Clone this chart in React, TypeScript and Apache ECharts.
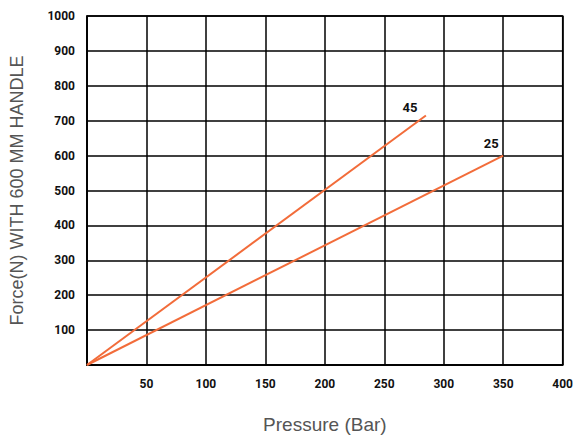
import React, { useEffect, useRef } from "react";
import * as echarts from "echarts";

const xTicks = [0, 50, 100, 150, 200, 250, 300, 350, 400];
const yTicks = [0, 100, 200, 300, 400, 500, 600, 700, 800, 900, 1000];
const line45 = [
  [0, 0],
  [285, 715],
];
const line25 = [
  [0, 0],
  [350, 600],
];
const seriesNames = ["45", "25"];

const TICK_FONT = "Roboto, sans-serif";

export default function App() {
  const ref = useRef<HTMLDivElement>(null);
  useEffect(() => {
    const chart = echarts.init(ref.current!, null, { renderer: "svg" });
    const mk = (name: string, pts: number[][], offset: number[]) => ({
      name,
      type: "line",
      symbol: "none",
      lineStyle: { color: "#f26c3a", width: 2 },
      endLabel: {
        show: true,
        formatter: name,
        offset,
        align: "center",
        verticalAlign: "middle",
        distance: 0,
        color: "#111",
        fontFamily: TICK_FONT,
        fontWeight: "bold",
        fontSize: 13,
      },
      data: pts,
    });
    chart.setOption({
      animation: false,
      grid: {
        left: 85,
        right: 10,
        top: 16,
        bottom: 78,
        show: true,
        borderColor: "#000",
        borderWidth: 1.5,
      },
      xAxis: {
        type: "value",
        min: xTicks[0],
        max: xTicks[xTicks.length - 1],
        interval: 50,
        name: "Pressure (Bar)",
        nameLocation: "middle",
        nameGap: 50,
        nameTextStyle: { color: "#555", fontSize: 19, fontFamily: "'Liberation Sans', Arial, sans-serif" },
        axisLine: { show: true, lineStyle: { color: "#000", width: 1.5 } },
        axisTick: { show: false },
        axisLabel: {
          margin: 13,
          color: "#111",
          fontFamily: TICK_FONT,
          fontWeight: "bold",
          fontSize: 12,
          formatter: (v: number) => (v === 0 ? "" : String(v)),
        },
        splitLine: { show: true, lineStyle: { color: "#000", width: 1.5 } },
      },
      yAxis: {
        type: "value",
        min: yTicks[0],
        max: yTicks[yTicks.length - 1],
        interval: 100,
        name: "Force(N) WITH 600 MM HANDLE",
        nameLocation: "middle",
        nameGap: 61,
        nameTextStyle: { color: "#555", fontSize: 18, fontFamily: "'Liberation Sans', Arial, sans-serif" },
        axisLine: { show: true, lineStyle: { color: "#000", width: 1.5 } },
        axisTick: { show: false },
        axisLabel: {
          margin: 12,
          color: "#111",
          fontFamily: TICK_FONT,
          fontWeight: "bold",
          fontSize: 12,
          formatter: (v: number) => (v === 0 ? "" : String(v)),
        },
        splitLine: { show: true, lineStyle: { color: "#000", width: 1.5 } },
      },
      series: [mk(seriesNames[0], line45, [-16, -8]), mk(seriesNames[1], line25, [-12, -12])],
    });
    return () => chart.dispose();
  }, []);
  return (
    <div
      ref={ref}
      style={{ position: "absolute", left: 0, top: 0, width: 576, height: 443 }}
    />
  );
}
